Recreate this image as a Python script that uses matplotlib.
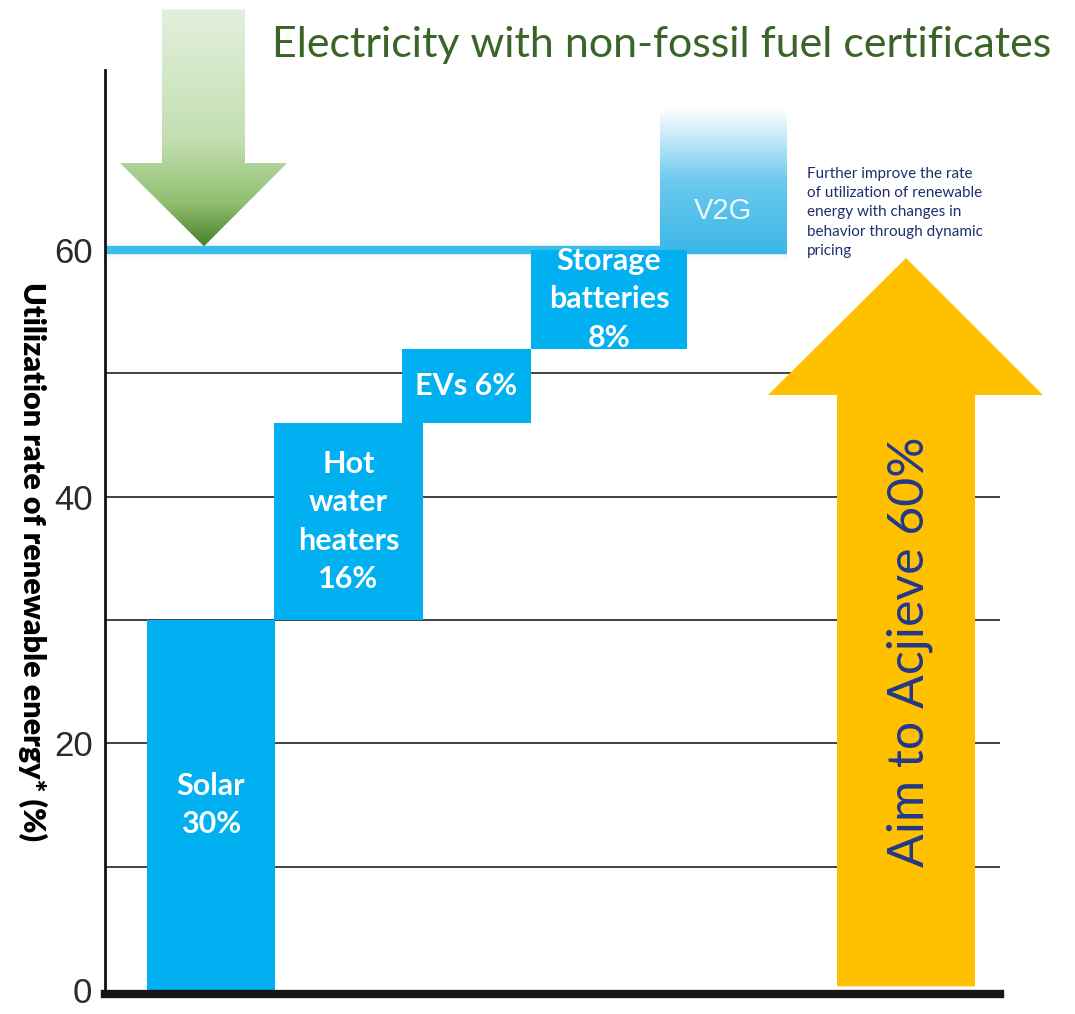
import numpy as np
import matplotlib
matplotlib.use("Agg")
import matplotlib.pyplot as plt
from matplotlib.patches import Polygon
from matplotlib.colors import LinearSegmentedColormap

# data
categories = ["Solar\n30%", "Hot\nwater\nheaters\n16%", "EVs 6%", "Storage\nbatteries\n8%"]
values = [30, 16, 6, 8]
target = 60
v2g_top = 71.5
yticks = [0, 20, 40, 60]
grid_levels = [10, 20, 30, 40, 50]
title = "Electricity with non-fossil fuel certificates"
ylabel = "Utilization rate of renewable energy* (%)"
note = ("Further improve the rate\nof utilization of renewable\nenergy with changes in\n"
        "behavior through dynamic\npricing")
goal_text = "Aim to Acjieve 60%"

# layout (x in pixel-like units from the left spine)
bar_left = [42, 169, 297, 426]
bar_width = [128, 149, 129, 156]
v2g_left, v2g_width = 555, 127

W, H = 1075, 1014
ppu = (990 - 250) / 60.0  # pixels per percent

fig = plt.figure(figsize=(W / 100, H / 100), dpi=100)
ax = fig.add_axes([105 / W, (H - 990) / H, 970 / W, 990 / H])
ax.set_xlim(0, 970)
ax.set_ylim(0, 990 / ppu)
ax.set_facecolor("white")

for s in ["top", "right"]:
    ax.spines[s].set_visible(False)
ax.spines["left"].set_bounds(0, 920 / ppu)
ax.spines["left"].set_linewidth(2)
ax.spines["left"].set_color("#111111")
ax.spines["bottom"].set_bounds(0, 895)
ax.spines["bottom"].set_linewidth(6)
ax.spines["bottom"].set_color("#1a1414")
ax.spines["bottom"].set_position(("outward", 3))
ax.spines["bottom"].set_zorder(6)

ax.set_xticks([])
ax.set_yticks(yticks)
ax.set_yticklabels([str(t) for t in yticks], family="Liberation Sans",
                   fontsize=25, color="#2a2a2a")
ax.tick_params(axis="y", length=0, pad=9)

# grid
ax.hlines(grid_levels, 0, 895, color="#333333", lw=1.3, zorder=1)

# waterfall bars
bottoms = np.concatenate([[0], np.cumsum(values)[:-1]])
ax.bar(bar_left, values, width=bar_width, bottom=bottoms, align="edge",
       color="#00b0f0", zorder=3)
for x, w, b, v, lab in zip(bar_left, bar_width, bottoms, values, categories):
    ax.text(x + w / 2, b + v / 2, lab, ha="center", va="center", color="white",
            fontsize=22, fontweight="bold", family="Lato", linespacing=1.45, zorder=5)

# 60% line
ax.hlines(target, 0, v2g_left + v2g_width, color="#3bbde8", lw=12, alpha=0.05, zorder=2)
ax.hlines(target, 0, v2g_left + v2g_width, color="#3bbde8", lw=6, zorder=2)

# V2G gradient box
grad = np.linspace(0, 1, 256).reshape(-1, 1)
cm_v2g = LinearSegmentedColormap.from_list("v2g", ["#3ab7e8", "#6cc9ee", "#ffffff"])
ax.imshow(grad, extent=[v2g_left, v2g_left + v2g_width, target - 0.3, v2g_top],
          origin="lower", cmap=cm_v2g, aspect="auto", zorder=2)
ax.text(v2g_left + v2g_width / 2, 63.2, "V2G", ha="center", va="center", color="#eef8fd",
        fontsize=21, family="Liberation Sans", zorder=5)

# green arrow
garrow = Polygon([[57, 79.5], [140, 79.5], [140, 67.05], [182, 67.05], [99, 60.3],
                  [15, 67.05], [57, 67.05]], closed=True, facecolor="none", edgecolor="none")
ax.add_patch(garrow)
cm_g = LinearSegmentedColormap.from_list("g", [(0, "#4a7f2c"), (0.18, "#8fbf6f"),
                                              (0.45, "#c3dfb2"), (1, "#e2f0dc")])
im = ax.imshow(grad, extent=[15, 182, 60.3, 79.5], origin="lower", cmap=cm_g,
               aspect="auto", zorder=4)
im.set_clip_path(garrow)

# yellow arrow
yarrow = Polygon([[732, 0.3], [870, 0.3], [870, 48.24], [938, 48.24], [801, 59.35],
                  [663, 48.24], [732, 48.24]], closed=True, facecolor="#ffc000",
                 edgecolor="none", zorder=4)
ax.add_patch(yarrow)
ax.text(805, 27.4, goal_text, rotation=90, ha="center", va="center", color="#22388a",
        fontsize=36, family="Lato", zorder=5)

# texts
fig.text(662 / W, 1 - 45 / H, title, ha="center", va="center", color="#3a6428",
         fontsize=31, family="Lato")
fig.text(807 / W, 1 - 167 / H, note, ha="left", va="top", color="#1f2f6b",
         fontsize=11, family="Lato", linespacing=1.47)
fig.text(33 / W, 1 - 562 / H, ylabel, rotation=-90, ha="center", va="center",
         color="black", fontsize=22, fontweight="heavy", family="Lato")

fig.savefig("out.png", dpi=100, facecolor="white")
